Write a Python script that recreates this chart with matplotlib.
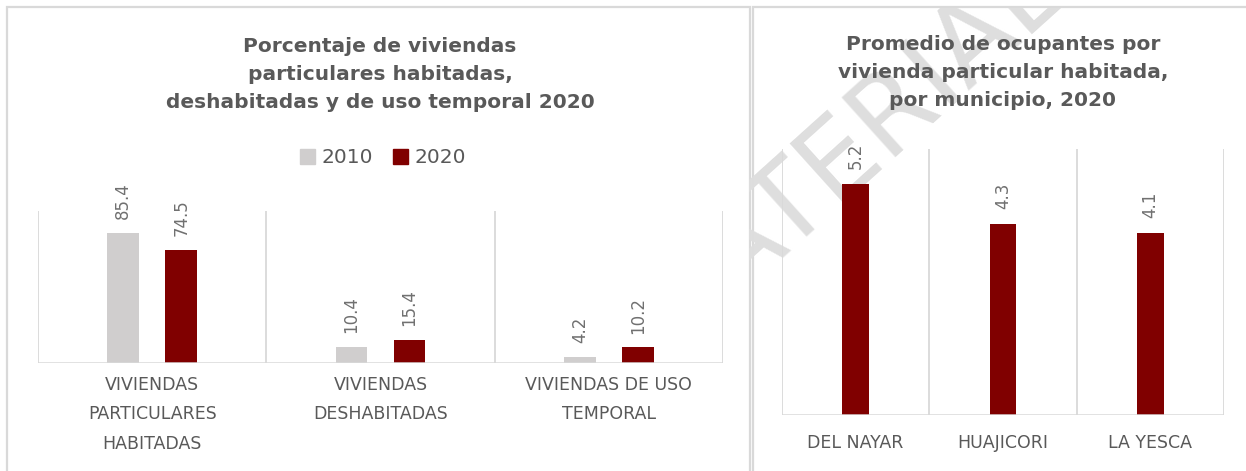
import numpy as np
import matplotlib.pyplot as plt
from matplotlib.patches import Rectangle, Patch
from matplotlib.transforms import Bbox, TransformedBbox

# --- data ---
tipo_vivienda = ["VIVIENDAS\nPARTICULARES\nHABITADAS",
                 "VIVIENDAS\nDESHABITADAS",
                 "VIVIENDAS DE USO\nTEMPORAL"]
pct_2010 = [85.4, 10.4, 4.2]
pct_2020 = [74.5, 15.4, 10.2]
series_names = ["2010", "2020"]

municipios = ["DEL NAYAR", "HUAJICORI", "LA YESCA"]
ocupantes_2020 = [5.2, 4.3, 4.1]

title_left = "Porcentaje de viviendas\nparticulares habitadas,\ndeshabitadas y de uso temporal 2020"
title_right = "Promedio de ocupantes por\nvivienda particular habitada,\npor municipio, 2020"

# --- styles ---
W, H = 1246, 471
GRAY_BAR = '#d0cece'
RED = '#800000'
TXT = '#595959'
LBL = '#707070'
GRID = '#d9d9d9'

plt.rcParams['font.family'] = ['DejaVu Sans']

fig = plt.figure(figsize=(W / 100, H / 100), dpi=100)


def fx(px):
    return px / W


def fy(py):
    return 1 - py / H


# panel borders
for x0, x1 in [(7, 750), (753, 1260)]:
    fig.patches.append(Rectangle((fx(x0), fy(490)), fx(x1 - x0), (490 - 7) / H,
                                 transform=fig.transFigure, fill=False,
                                 edgecolor=GRID, lw=1.6, zorder=-3))

# watermark behind right panel (only part of it shows, like the reference)
wm = fig.text(fx(664), fy(356), "MATERIAL", rotation=42, rotation_mode='anchor',
              ha='left', va='baseline', fontsize=79, color='#dedede', zorder=-2)
wm.set_clip_box(TransformedBbox(Bbox([[fx(749), 0], [1, fy(8)]]), fig.transFigure))
wm.set_clip_on(True)


def style_axes(ax, ymax):
    ax.set_facecolor('none')
    ax.set_xlim(-0.5, 2.5)
    ax.set_ylim(0, ymax)
    for s in ax.spines.values():
        s.set_visible(False)
    ax.set_yticks([])
    ax.vlines([-0.5, 0.5, 1.5, 2.5], 0, ymax, color=GRID, lw=1.3, zorder=0)
    ax.axhline(0, color=GRID, lw=1.8, zorder=3)
    ax.tick_params(axis='x', length=0, labelsize=12.5, labelcolor=TXT)


# --- left chart ---
axL = fig.add_axes([fx(38), fy(363), fx(723 - 38), (363 - 211) / H])
style_axes(axL, 100)
x = np.arange(len(tipo_vivienda))
off, bw = 0.127, 0.14
b1 = axL.bar(x - off, pct_2010, width=bw, color=GRAY_BAR, zorder=2)
b2 = axL.bar(x + off, pct_2020, width=bw, color=RED, zorder=2)
for bars, vals in [(b1, pct_2010), (b2, pct_2020)]:
    for r, v in zip(bars, vals):
        axL.annotate(f"{v:.1f}", (r.get_x() + r.get_width() / 2, v), xytext=(0, 10),
                     textcoords='offset points', rotation=90, ha='center', va='bottom',
                     fontsize=12, color=LBL, annotation_clip=False)
axL.set_xticks(x)
axL.set_xticklabels(tipo_vivienda, linespacing=1.85)
axL.tick_params(axis='x', pad=9)

fig.text(fx(380), fy(74), title_left, ha='center', va='center', fontsize=14.5,
         fontweight='bold', color=TXT, linespacing=1.6)

fig.legend(handles=[Patch(color=GRAY_BAR), Patch(color=RED)], labels=series_names,
           loc='center', bbox_to_anchor=(fx(383), fy(158)), ncol=2, frameon=False,
           fontsize=14.5, handlelength=0.75, handleheight=0.75, handletextpad=0.3,
           columnspacing=1.0, labelcolor=TXT)

# --- right chart ---
axR = fig.add_axes([fx(782), fy(415), fx(1224 - 782), (415 - 149) / H])
style_axes(axR, 6)
xr = np.arange(len(municipios))
br = axR.bar(xr, ocupantes_2020, width=0.18, color=RED, zorder=2)
for r, v in zip(br, ocupantes_2020):
    axR.annotate(f"{v:.1f}", (r.get_x() + r.get_width() / 2, v), xytext=(0, 11),
                 textcoords='offset points', rotation=90, ha='center', va='bottom',
                 fontsize=12, color=LBL, annotation_clip=False)
axR.set_xticks(xr)
axR.set_xticklabels(municipios)
axR.tick_params(axis='x', pad=14)

fig.text(fx(1003), fy(73), title_right, ha='center', va='center', fontsize=14.5,
         fontweight='bold', color=TXT, linespacing=1.6)

fig.savefig("out.png", dpi=100, facecolor='white')
